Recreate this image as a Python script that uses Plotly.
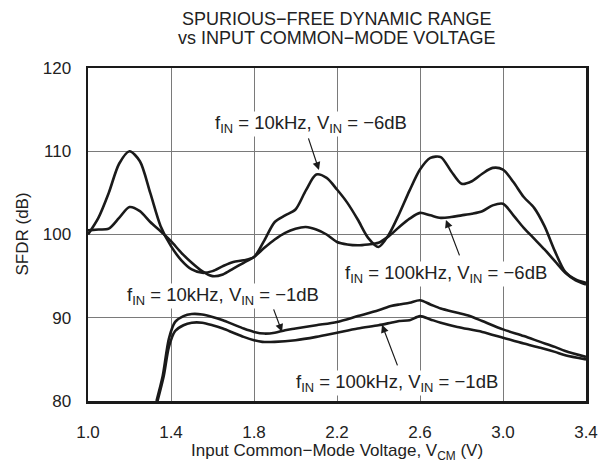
import plotly.graph_objects as go

# ---- data ----
vcm_10k_6db = [1.00, 1.05, 1.10, 1.15, 1.20, 1.25, 1.30, 1.35, 1.40, 1.45, 1.50, 1.55, 1.60,
               1.65, 1.70, 1.75, 1.80, 1.85, 1.90, 1.95, 2.00, 2.05, 2.10, 2.15, 2.20, 2.25,
               2.30, 2.35, 2.40, 2.45, 2.50, 2.55, 2.60, 2.65, 2.70, 2.75, 2.80, 2.85, 2.90,
               2.95, 3.00, 3.05, 3.10, 3.15, 3.20, 3.25, 3.30, 3.35, 3.40]
sfdr_10k_6db = [100.0, 102.0, 105.0, 108.5, 110.0, 108.8, 105.0, 101.0, 98.6, 96.9, 95.8, 95.4, 95.6,
                96.2, 96.7, 96.9, 97.3, 99.3, 101.5, 102.3, 103.0, 105.3, 107.2, 106.8, 105.4, 103.8,
                101.8, 99.6, 98.5, 100.0, 102.5, 105.3, 107.8, 109.2, 109.3, 107.6, 106.1, 106.4, 107.3,
                108.0, 107.8, 106.3, 104.5, 103.2, 101.0, 98.0, 95.5, 94.6, 94.2]

vcm_100k_6db = [1.00, 1.05, 1.10, 1.15, 1.20, 1.25, 1.30, 1.35, 1.40, 1.45, 1.50, 1.55, 1.60,
                1.65, 1.70, 1.75, 1.80, 1.85, 1.90, 1.95, 2.00, 2.05, 2.10, 2.15, 2.20, 2.25,
                2.30, 2.35, 2.40, 2.45, 2.50, 2.55, 2.60, 2.65, 2.70, 2.75, 2.80, 2.85, 2.90,
                2.95, 3.00, 3.05, 3.10, 3.15, 3.20, 3.25, 3.30, 3.35, 3.40]
sfdr_100k_6db = [100.5, 100.6, 100.7, 102.0, 103.3, 102.8, 101.5, 100.4, 99.2, 97.8, 96.6, 95.6, 95.0,
                 95.2, 95.9, 96.6, 97.3, 98.4, 99.4, 100.2, 100.7, 100.9, 100.6, 100.0, 99.1, 98.8,
                 98.7, 98.8, 99.0, 99.8, 100.9, 101.9, 102.6, 102.3, 102.0, 102.1, 102.3, 102.5, 102.8,
                 103.5, 103.7, 102.3, 100.8, 99.5, 98.2, 96.8, 95.4, 94.5, 94.0]

vcm_10k_1db = [1.33, 1.36, 1.39, 1.42, 1.46, 1.50, 1.55, 1.60, 1.65, 1.70, 1.75, 1.80, 1.85,
               1.90, 1.95, 2.00, 2.10, 2.20, 2.30, 2.40, 2.46, 2.50, 2.55, 2.60, 2.65, 2.70,
               2.78, 2.84, 2.90, 3.00, 3.10, 3.18, 3.25, 3.30, 3.40]
sfdr_10k_1db = [80.0, 83.0, 87.5, 89.5, 90.2, 90.45, 90.4, 90.1, 89.7, 89.2, 88.7, 88.3, 88.1,
                88.2, 88.5, 88.7, 89.1, 89.5, 90.2, 90.9, 91.4, 91.6, 91.8, 92.1, 91.6, 91.1,
                90.6, 90.2, 89.6, 88.6, 87.8, 87.1, 86.5, 86.0, 85.3]

vcm_100k_1db = [1.335, 1.365, 1.39, 1.42, 1.46, 1.50, 1.55, 1.60, 1.65, 1.70, 1.75, 1.80, 1.84,
                1.90, 2.00, 2.10, 2.20, 2.30, 2.40, 2.46, 2.50, 2.55, 2.60, 2.65, 2.70, 2.78,
                2.90, 3.00, 3.10, 3.18, 3.25, 3.30, 3.40]
sfdr_100k_1db = [80.0, 83.0, 86.5, 88.4, 89.1, 89.4, 89.4, 89.1, 88.7, 88.2, 87.7, 87.3, 87.1,
                 87.1, 87.3, 87.7, 88.2, 88.7, 89.1, 89.4, 89.6, 89.7, 90.2, 89.8, 89.4, 88.9,
                 88.3, 87.6, 86.9, 86.4, 85.9, 85.5, 85.0]

x_ticks = [1.0, 1.4, 1.8, 2.2, 2.6, 3.0, 3.4]
x_tick_labels = ["1.0", "1.4", "1.8", "2.2", "2.6", "3.0", "3.4"]
y_ticks = [80, 90, 100, 110, 120]
y_tick_labels = ["80", "90", "100", "110", "120"]

series = [
    (vcm_10k_6db, sfdr_10k_6db),
    (vcm_100k_6db, sfdr_100k_6db),
    (vcm_10k_1db, sfdr_10k_1db),
    (vcm_100k_1db, sfdr_100k_1db),
]

FONT = "Liberation Sans, Arial, Helvetica, sans-serif"
INK = "#1a1a1a"

fig = go.Figure()
for xs, ys in series:
    fig.add_trace(go.Scatter(
        x=xs, y=ys, mode="lines",
        line=dict(color=INK, width=2.6, shape="spline", smoothing=0.8),
        showlegend=False, hoverinfo="skip", cliponaxis=True,
    ))

fig.update_layout(
    width=600, height=467,
    margin=dict(l=88, r=14, t=68, b=66, autoexpand=False),
    plot_bgcolor="white", paper_bgcolor="white",
    font=dict(family=FONT, size=17, color="#222"),
    showlegend=False,
)
fig.update_xaxes(
    range=[1.0, 3.4], tickvals=x_ticks, ticktext=x_tick_labels,
    showgrid=True, gridcolor="#7a7a7a", gridwidth=1,
    showline=True, linecolor=INK, linewidth=2.5, mirror=True,
    zeroline=False, ticks="", ticklabelstandoff=14, automargin=False,
)
fig.update_yaxes(
    range=[80, 120], tickvals=y_ticks, ticktext=y_tick_labels,
    showgrid=True, gridcolor="#7a7a7a", gridwidth=1,
    showline=True, linecolor=INK, linewidth=2.5, mirror=True,
    zeroline=False, ticks="", ticklabelstandoff=11, automargin=False,
)

# titles
fig.add_annotation(text="SPURIOUS\u2212FREE DYNAMIC RANGE", xref="paper", yref="paper",
                   x=0.5, y=1.147, xanchor="center", yanchor="middle", showarrow=False,
                   borderpad=0, font=dict(size=18, family=FONT, color="#222"))
fig.add_annotation(text="vs INPUT COMMON\u2212MODE VOLTAGE", xref="paper", yref="paper",
                   x=0.5, y=1.089, xanchor="center", yanchor="middle", showarrow=False,
                   borderpad=0, font=dict(size=18, family=FONT, color="#222"))
fig.add_annotation(text="Input Common\u2212Mode Voltage, V<sub>CM</sub> (V)", xref="paper", yref="paper",
                   x=0.5, y=-0.152, xanchor="center", yanchor="middle", showarrow=False,
                   borderpad=0, font=dict(size=17, family=FONT, color="#222"))
fig.add_annotation(text="SFDR (dB)", xref="paper", yref="paper", textangle=-90,
                   x=-0.1325, y=0.5, xanchor="center", yanchor="middle", showarrow=False,
                   font=dict(size=17, family=FONT, color="#222"))

# curve labels
labels = [
    ("f<sub>IN</sub> = 10kHz, V<sub>IN</sub> = \u22126dB", 2.075, 113.28),
    ("f<sub>IN</sub> = 100kHz, V<sub>IN</sub> = \u22126dB", 2.725, 95.27),
    ("f<sub>IN</sub> = 10kHz, V<sub>IN</sub> = \u22121dB", 1.651, 92.63),
    ("f<sub>IN</sub> = 100kHz, V<sub>IN</sub> = \u22121dB", 2.489, 82.18),
]
for txt, lx, ly in labels:
    fig.add_annotation(text=txt, x=lx, y=ly, xref="x", yref="y", showarrow=False,
                       xanchor="center", yanchor="middle", bgcolor="white", borderpad=0,
                       font=dict(size=18.5, family=FONT, color="#222"))

# arrows (head, tail)
arrows = [
    ((2.113, 107.76), (2.060, 111.72)),
    ((2.725, 101.75), (2.793, 97.31)),
    ((1.935, 88.31), (1.892, 91.19)),
    ((2.417, 89.15), (2.494, 84.10)),
]
for (hx, hy), (tx, ty) in arrows:
    fig.add_annotation(text="", x=hx, y=hy, ax=tx, ay=ty, xref="x", yref="y",
                       axref="x", ayref="y", showarrow=True, arrowhead=2,
                       arrowsize=1.3, arrowwidth=1.2, arrowcolor=INK, standoff=0)

fig.write_html("out.html",
               config={"displayModeBar": False, "staticPlot": True},
               post_script="document.body.style.margin='0';document.body.style.padding='0';")
